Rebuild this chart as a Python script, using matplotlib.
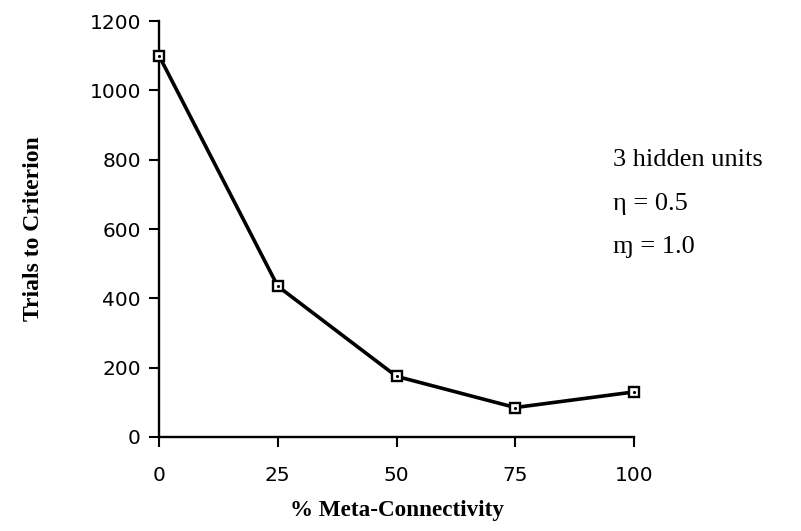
import matplotlib
matplotlib.use("Agg")
import matplotlib.pyplot as plt

# data
meta_connectivity = [0, 25, 50, 75, 100]
trials = [1100, 435, 175, 85, 130]
x_ticks = [0, 25, 50, 75, 100]
x_tick_labels = ["0", "25", "50", "75", "100"]
y_ticks = [0, 200, 400, 600, 800, 1000, 1200]
y_tick_labels = ["0", "200", "400", "600", "800", "1000", "1200"]
annotation_lines = ["3 hidden units", "\u03b7 = 0.5", "\u0271 = 1.0"]

fig = plt.figure(figsize=(8.01, 5.31), dpi=100)
ax = fig.add_axes([159/801, 1-437/531, (634-159)/801, (437-21)/531])

ax.plot(meta_connectivity, trials, color="black", lw=2.6, zorder=3,
        marker="s", ms=7.5, mfc="white", mec="black", mew=1.7, clip_on=False)
ax.plot(meta_connectivity, trials, ls="none", marker=".", ms=2.5,
        color="black", zorder=4, clip_on=False)

ax.set_xlim(0, 100)
ax.set_ylim(0, 1200)
ax.set_xticks(x_ticks)
ax.set_xticklabels(x_tick_labels)
ax.set_yticks(y_ticks)
ax.set_yticklabels(y_tick_labels)

for s in ["top", "right"]:
    ax.spines[s].set_visible(False)
for s in ["left", "bottom"]:
    ax.spines[s].set_linewidth(1.7)

ax.tick_params(axis="y", direction="out", length=7, width=1.5, pad=6,
               labelsize=14.5)
ax.tick_params(axis="x", direction="out", length=7, width=1.5, pad=14,
               labelsize=14.5)
for lab in ax.get_xticklabels() + ax.get_yticklabels():
    lab.set_fontfamily("DejaVu Sans")

ax.set_xlabel("% Meta-Connectivity", fontfamily="Liberation Serif",
              fontweight="bold", fontsize=16.7, labelpad=11)
ax.set_ylabel("Trials to Criterion", fontfamily="Liberation Serif",
              fontweight="bold", fontsize=17, labelpad=33)

ys = [160, 204, 247]
for txt, yp in zip(annotation_lines, ys):
    fig.text(613/801, 1-yp/531, txt, family=["Liberation Serif", "DejaVu Serif"],
             fontsize=19, va="center", ha="left")

fig.savefig("out.png", dpi=100)
